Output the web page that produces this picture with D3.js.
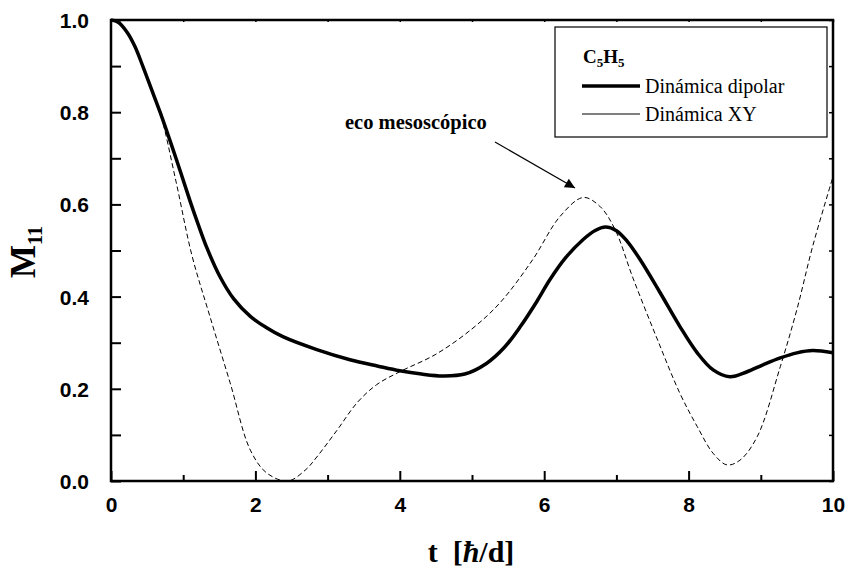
<!DOCTYPE html>
<html><head><meta charset="utf-8">
<script src="https://cdn.jsdelivr.net/npm/d3@7"></script>
<style>body{margin:0;background:#fff}</style>
</head><body><svg id="c" width="848" height="570"></svg>
<script>
const dipT = [0, 0.1, 0.22, 0.33, 0.44, 0.56, 0.68, 0.9, 1.1, 1.2, 1.33, 1.51, 1.7, 1.93, 2.15, 2.38, 2.85, 3.31, 3.7, 4.0, 4.3, 4.6, 4.9, 5.2, 5.45, 5.67, 5.9, 6.08, 6.3, 6.54, 6.7, 6.85, 7.0, 7.15, 7.33, 7.6, 7.88, 8.12, 8.34, 8.57, 8.81, 9.03, 9.27, 9.5, 9.72, 10];
const dipM = [1.0, 0.995, 0.974, 0.943, 0.90, 0.85, 0.80, 0.70, 0.605, 0.56, 0.505, 0.443, 0.395, 0.357, 0.333, 0.313, 0.285, 0.263, 0.249, 0.239, 0.232, 0.228, 0.232, 0.255, 0.29, 0.335, 0.39, 0.437, 0.485, 0.524, 0.543, 0.551, 0.543, 0.52, 0.48, 0.41, 0.335, 0.278, 0.241, 0.226, 0.237, 0.252, 0.267, 0.278, 0.283, 0.278];
const xyT = [0, 0.1, 0.22, 0.33, 0.44, 0.56, 0.68, 0.9, 1.12, 1.37, 1.65, 1.93, 2.16, 2.45, 2.7, 2.85, 3.13, 3.41, 3.68, 4.0, 4.5, 5.0, 5.39, 5.84, 6.22, 6.54, 6.77, 6.98, 7.23, 7.56, 7.88, 8.12, 8.34, 8.53, 8.71, 8.95, 9.27, 9.5, 9.72, 10];
const xyM = [1.0, 0.995, 0.974, 0.943, 0.90, 0.85, 0.80, 0.65, 0.49, 0.357, 0.213, 0.067, 0.017, 0.0, 0.025, 0.052, 0.11, 0.17, 0.209, 0.237, 0.275, 0.33, 0.387, 0.48, 0.574, 0.615, 0.596, 0.546, 0.44, 0.31, 0.19, 0.118, 0.06, 0.035, 0.045, 0.096, 0.248, 0.372, 0.51, 0.66];
const xTicks = [0, 2, 4, 6, 8, 10];
const xMinor = [1, 3, 5, 7, 9];
const yTicks = [0.0, 0.2, 0.4, 0.6, 0.8, 1.0];
const yMinor = [0.1, 0.3, 0.5, 0.7, 0.9];
const seriesNames = ["Dinámica dipolar", "Dinámica XY"];

const svg = d3.select("#c");
const L = 111, R = 833, T = 20, B = 481;
const x = d3.scaleLinear().domain([0, 10]).range([L, R]);
const y = d3.scaleLinear().domain([0, 1]).range([B, T]);
const serif = "Liberation Serif, Times New Roman, serif";
const sans = "Liberation Sans, Arial, sans-serif";

const line = d3.line().curve(d3.curveCatmullRom.alpha(0.5)).x(d => x(d[0])).y(d => y(d[1]));
svg.append("clipPath").attr("id","cp").append("rect").attr("x",L).attr("y",T-2).attr("width",R-L).attr("height",B-T+2);

svg.append("path").datum(xyT.map((t,i)=>[t,xyM[i]]))
  .attr("d", line).attr("fill","none").attr("stroke","#000").attr("stroke-width",1)
  .attr("stroke-dasharray","5,3").attr("clip-path","url(#cp)");
svg.append("path").datum(dipT.map((t,i)=>[t,dipM[i]]))
  .attr("d", line).attr("fill","none").attr("stroke","#000").attr("stroke-width",3.5)
  .attr("stroke-linejoin","round").attr("clip-path","url(#cp)");

// axes
const ax = svg.append("g");
const bottom = d3.axisBottom(x).tickValues(xTicks).tickSizeInner(-10).tickSizeOuter(0).tickFormat(d3.format("d")).tickPadding(16);
const gB = ax.append("g").attr("transform",`translate(0,${B})`).call(bottom);
const left = d3.axisLeft(y).tickValues(yTicks).tickSizeInner(-10).tickSizeOuter(0).tickFormat(d3.format(".1f")).tickPadding(22);
const gL = ax.append("g").attr("transform",`translate(${L},0)`).call(left);
[gB,gL].forEach(g=>{
  g.select(".domain").remove();
  g.selectAll("line").attr("stroke","#000").attr("stroke-width",2);
  g.selectAll("text").attr("font-family",sans).attr("font-weight","bold").attr("font-size",21).attr("fill","#000");
});
gL.selectAll("text").attr("dy","0.36em");
gB.selectAll("text").attr("dy","0.7em");
ax.append("g").attr("transform",`translate(0,${B})`).call(d3.axisBottom(x).tickValues(xMinor).tickSizeInner(-6).tickSizeOuter(0).tickFormat(""))
  .call(g=>{g.select(".domain").remove(); g.selectAll("line").attr("stroke","#000").attr("stroke-width",2);});
ax.append("g").attr("transform",`translate(${L},0)`).call(d3.axisLeft(y).tickValues(yMinor).tickSizeInner(-10).tickSizeOuter(0).tickFormat(""))
  .call(g=>{g.select(".domain").remove(); g.selectAll("line").attr("stroke","#000").attr("stroke-width",2);});
ax.append("g").attr("transform",`translate(${R},0)`).call(d3.axisRight(y).tickValues(yTicks.concat(yMinor)).tickSizeInner(-4).tickSizeOuter(0).tickFormat(""))
  .call(g=>{g.select(".domain").remove(); g.selectAll("line").attr("stroke","#000").attr("stroke-width",1.5);});
ax.append("g").attr("transform",`translate(0,${T})`).call(d3.axisTop(x).tickValues(xTicks.concat(xMinor)).tickSizeInner(-2).tickSizeOuter(0).tickFormat(""))
  .call(g=>{g.select(".domain").remove(); g.selectAll("line").attr("stroke","#000").attr("stroke-width",1.5);});
svg.append("rect").attr("x",L).attr("y",T).attr("width",R-L).attr("height",B-T)
  .attr("fill","none").attr("stroke","#000").attr("stroke-width",2.5);

// axis titles
const xl = svg.append("text").attr("x",471).attr("y",562).attr("text-anchor","middle")
  .attr("font-family",serif).attr("font-weight","bold").attr("font-size",30).attr("fill","#000");
xl.append("tspan").text("t\u00a0\u00a0[");
xl.append("tspan").attr("font-style","italic").text("ħ");
xl.append("tspan").text("/d]");

const yl = svg.append("text").attr("transform","translate(35,252) rotate(-90)").attr("text-anchor","middle")
  .attr("font-family",serif).attr("font-weight","bold").attr("font-size",35).attr("fill","#000");
yl.append("tspan").text("M");
yl.append("tspan").attr("font-size",20).attr("dy",7).text("11");

// annotation
svg.append("text").attr("x",345).attr("y",129).attr("font-family",serif).attr("font-weight","bold")
  .attr("font-size",20.5).attr("fill","#000").text("eco mesoscópico");
svg.append("defs").append("marker").attr("id","arr").attr("viewBox","0 0 10 10").attr("refX",10).attr("refY",5)
  .attr("markerWidth",14).attr("markerHeight",10).attr("markerUnits","userSpaceOnUse").attr("orient","auto")
  .append("path").attr("d","M0,0 L10,5 L0,10 z").attr("fill","#000");
svg.append("line").attr("x1",495).attr("y1",142).attr("x2",575).attr("y2",188)
  .attr("stroke","#000").attr("stroke-width",1.2).attr("marker-end","url(#arr)");

// legend
svg.append("rect").attr("x",555).attr("y",27).attr("width",272).attr("height",110)
  .attr("fill","#fff").attr("stroke","#000").attr("stroke-width",1.2);
const lt = svg.append("text").attr("x",583).attr("y",63).attr("font-family",serif).attr("font-weight","bold")
  .attr("font-size",19).attr("fill","#000");
lt.append("tspan").text("C");
lt.append("tspan").attr("font-size",13).attr("dy",4).text("5");
lt.append("tspan").attr("dy",-4).text("H");
lt.append("tspan").attr("font-size",13).attr("dy",4).text("5");
const legY = [86, 114], legW = [3.5, 1];
seriesNames.forEach((n,i)=>{
  svg.append("line").attr("x1",582).attr("x2",640).attr("y1",legY[i]).attr("y2",legY[i])
    .attr("stroke","#000").attr("stroke-width",legW[i]);
  svg.append("text").attr("x",645).attr("y",legY[i]+7).attr("font-family",serif).attr("font-size",20)
    .attr("fill","#000").text(n);
});
</script></body></html>
